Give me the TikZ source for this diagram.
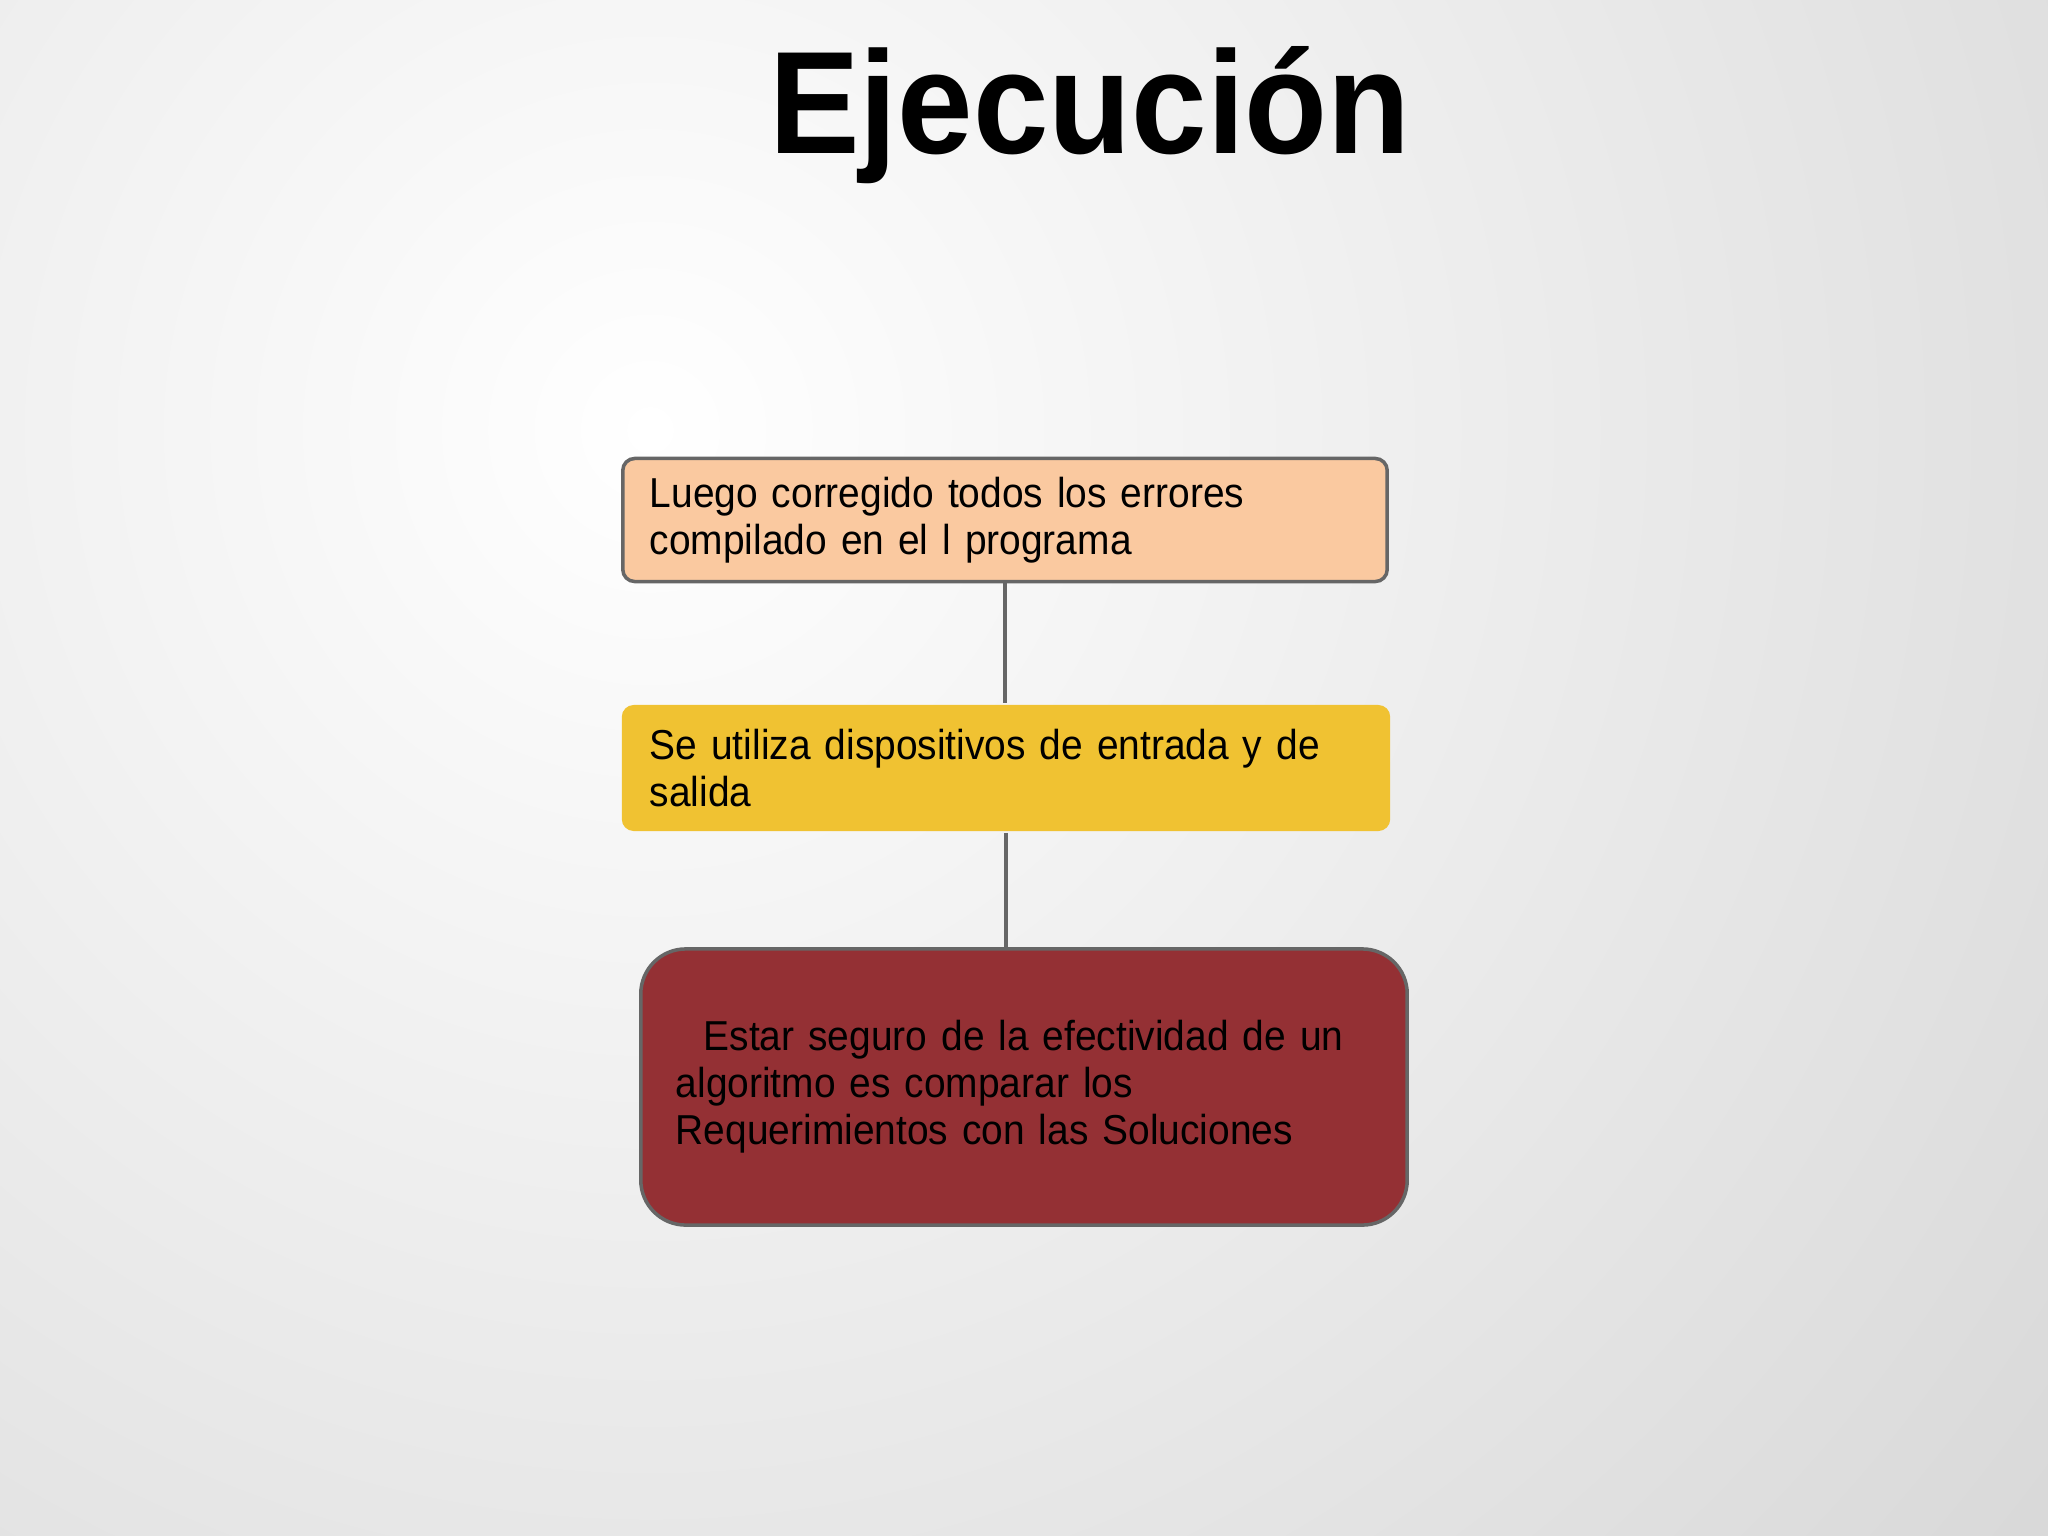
\documentclass[tikz,border=0pt]{standalone}
\usepackage{fontspec}
\setmainfont[FakeStretch=0.93]{Liberation Sans}

\definecolor{peach}{RGB}{250,201,160}
\definecolor{mustard}{RGB}{240,194,50}
\definecolor{wine}{RGB}{148,48,52}
\definecolor{edgegray}{RGB}{102,102,102}
\definecolor{bggray}{RGB}{214,214,214}

\begin{document}
\begin{tikzpicture}[x=0.01cm, y=-0.01cm,
	stepbox/.style={draw=edgegray, line width=1pt, rounded corners=3.4pt, align=left, inner ysep=0pt, font=\fontsize{11.9}{13.4}\selectfont},
	link/.style={draw=edgegray, line width=0.9pt}]

	% page and soft grey background
	\useasboundingbox (0,0) rectangle (2048,1536);
	\begin{scope}
		\clip (0,0) rectangle (2048,1536);
		\shade[inner color=white, outer color=bggray] (650,430) circle (1900);
	\end{scope}

	% title
	\node[anchor=base, font=\fontsize{41.5}{41.5}\selectfont\bfseries] (titulo) at (1090,153) {Ejecución};

	% the three steps
	\node[stepbox, fill=peach, inner xsep=0.27cm, text width=7.10cm, minimum height=1.23cm] (luego) at (1005,520)
		{Luego corregido todos los errores\\compilado en el l programa};
	\node[stepbox, draw=none, fill=mustard, inner xsep=0.28cm, text width=7.12cm, minimum height=1.26cm] (dispositivos) at (1006,768)
		{Se utiliza dispositivos de entrada y de\\salida};
	\node[stepbox, fill=wine, rounded corners=12.8pt, inner xsep=0.35cm, text width=6.96cm, minimum height=2.76cm] (seguro) at (1024,1087)
		{\ \ Estar seguro de la efectividad de un\\algoritmo es comparar los\\Requerimientos con las Soluciones};

	% connectors
	\draw[link] (luego.south) -- (luego.south |- dispositivos.north);
	\draw[link] (dispositivos.south) -- (dispositivos.south |- seguro.north);

\end{tikzpicture}
\end{document}
